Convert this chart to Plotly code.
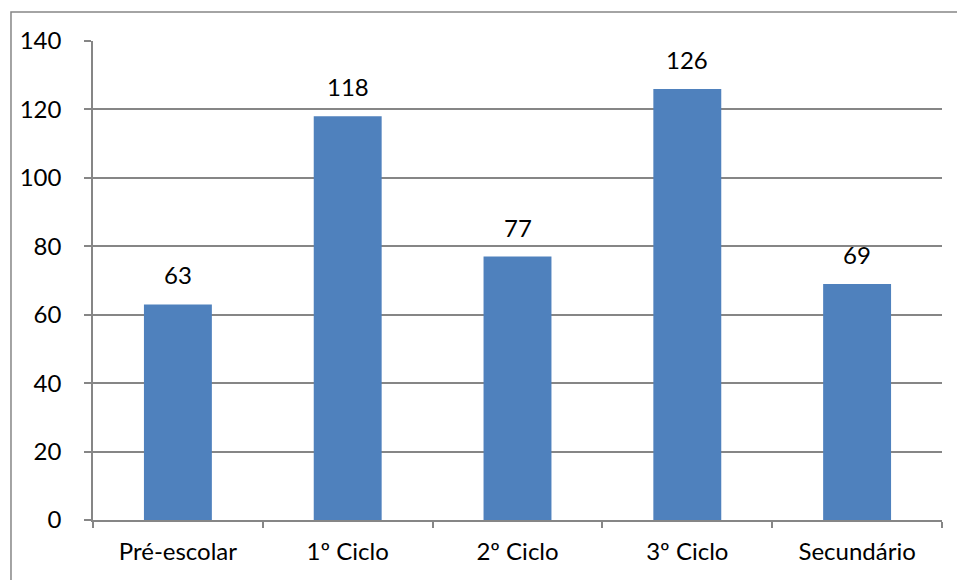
import plotly.graph_objects as go

categories = ["Pré-escolar", "1º Ciclo", "2º Ciclo", "3º Ciclo", "Secundário"]
values = [63, 118, 77, 126, 69]
y_ticks = [0, 20, 40, 60, 80, 100, 120, 140]

FONT = "Lato"
FS = 24
GRID = "#868686"

fig = go.Figure()
fig.add_trace(go.Bar(
    x=categories, y=values,
    marker=dict(color="#4F81BD", line=dict(width=0)),
    width=0.4,
))

for c, v in zip(categories, values):
    fig.add_annotation(x=c, y=v, text=str(v), showarrow=False,
                       yanchor="bottom", yshift=13,
                       font=dict(family=FONT, size=FS, color="#000000"))

fig.add_shape(type="rect", xref="paper", yref="paper",
              x0=-0.0966, x1=1.2, y0=-0.3, y1=1.0605,
              line=dict(color="#868686", width=1.5), layer="below")

fig.update_layout(
    width=957, height=580,
    margin=dict(l=93, r=15, t=41, b=60),
    paper_bgcolor="white", plot_bgcolor="white",
    showlegend=False,
    font=dict(family=FONT, size=FS, color="#000000"),
    xaxis=dict(
        showline=True, linecolor=GRID, linewidth=1.5,
        ticks="outside", tickson="boundaries", ticklen=6, tickcolor=GRID, tickwidth=1.5,
        showgrid=False, ticklabelstandoff=9,
        tickfont=dict(family=FONT, size=FS, color="#000000"),
    ),
    yaxis=dict(
        range=[0, 140], tickvals=y_ticks,
        showline=True, linecolor=GRID, linewidth=1.5,
        ticks="outside", ticklen=7, tickcolor=GRID, tickwidth=1.5,
        showgrid=True, gridcolor=GRID, gridwidth=1.5,
        zeroline=False, ticklabelstandoff=18,
        tickfont=dict(family=FONT, size=FS, color="#000000"),
    ),
)

fig.write_html("out.html")
